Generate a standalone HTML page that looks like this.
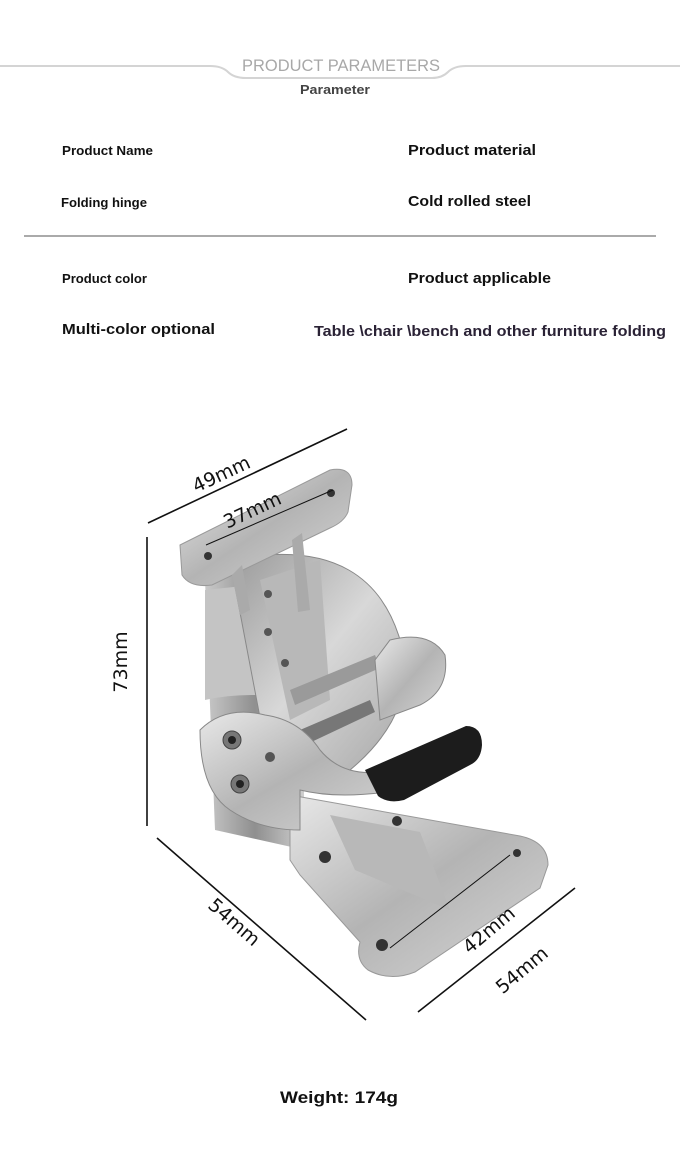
<!DOCTYPE html>
<html><head><meta charset="utf-8"><style>
html,body{margin:0;padding:0;background:#fff;}
svg{display:block}
.b{font-family:"Liberation Sans Narrow","Liberation Sans",sans-serif;font-weight:bold;fill:#111}
.d{font-family:"DejaVu Sans","Liberation Sans",sans-serif;fill:#111;font-size:19px}
</style></head><body>
<svg width="680" height="1156" viewBox="0 0 680 1156" xmlns="http://www.w3.org/2000/svg">
<defs>
<linearGradient id="m1" x1="0" y1="0" x2="1" y2="1"><stop offset="0" stop-color="#e8e8e8"/><stop offset=".5" stop-color="#b4b4b4"/><stop offset="1" stop-color="#d6d6d6"/></linearGradient>
<linearGradient id="m2" x1="0" y1="0" x2="1" y2="0"><stop offset="0" stop-color="#c9c9c9"/><stop offset=".5" stop-color="#8f8f8f"/><stop offset="1" stop-color="#d0d0d0"/></linearGradient>
<linearGradient id="m3" x1="0" y1="0" x2="1" y2="1"><stop offset="0" stop-color="#9a9a9a"/><stop offset=".5" stop-color="#d8d8d8"/><stop offset="1" stop-color="#a8a8a8"/></linearGradient>
</defs>
<path d="M0 66 L210 66 Q222 66 228 72 Q234 78 246 78 L432 78 Q442 78 448 72 Q454 66 466 66 L680 66" fill="none" stroke="#d4d4d4" stroke-width="2"/>
<text x="341" y="71" text-anchor="middle" font-family="Liberation Sans,sans-serif" font-size="17" fill="#a8a8a8" textLength="198" lengthAdjust="spacingAndGlyphs">PRODUCT PARAMETERS</text>
<text x="335" y="94" text-anchor="middle" class="b" font-size="13" style="fill:#444" textLength="70" lengthAdjust="spacingAndGlyphs">Parameter</text>
<text x="62" y="155" class="b" font-size="13" textLength="91" lengthAdjust="spacingAndGlyphs">Product Name</text>
<text x="408" y="155" class="b" font-size="15" textLength="128" lengthAdjust="spacingAndGlyphs">Product material</text>
<text x="61" y="207" class="b" font-size="13" textLength="86" lengthAdjust="spacingAndGlyphs">Folding hinge</text>
<text x="408" y="206" class="b" font-size="15" textLength="123" lengthAdjust="spacingAndGlyphs">Cold rolled steel</text>
<line x1="24" y1="236" x2="656" y2="236" stroke="#777" stroke-width="1.2"/>
<text x="62" y="283" class="b" font-size="13" textLength="85" lengthAdjust="spacingAndGlyphs">Product color</text>
<text x="408" y="283" class="b" font-size="15" textLength="143" lengthAdjust="spacingAndGlyphs">Product applicable</text>
<text x="62" y="334" class="b" font-size="15" textLength="153" lengthAdjust="spacingAndGlyphs">Multi-color optional</text>
<text x="314" y="336" class="b" font-size="15" style="fill:#2a2235" textLength="352" lengthAdjust="spacingAndGlyphs">Table \chair \bench and other furniture folding</text>
<path d="M205 580 L300 560 L305 850 L215 830 Z" fill="url(#m2)"/>
<path d="M205 590 L205 700 Q250 690 300 700 L300 580 Z" fill="#c4c4c4"/>
<path d="M230 560 Q380 530 405 660 Q410 720 350 770 L270 770 Z" fill="url(#m3)" stroke="#888" stroke-width="1"/>
<path d="M260 580 L320 560 L330 700 L290 720 Z" fill="#b8b8b8"/>
<path d="M290 690 L375 655 L380 668 L295 705 Z" fill="#9a9a9a"/>
<path d="M300 730 L370 700 L375 712 L305 745 Z" fill="#777"/>
<path d="M390 640 Q430 630 445 655 Q450 690 420 705 L380 720 L375 660 Z" fill="url(#m1)" stroke="#888"/>
<path d="M180 545 L330 470 Q352 466 352 485 L348 512 Q344 522 330 528 L212 585 Q190 588 182 575 Z" fill="url(#m1)" stroke="#999"/>
<circle cx="208" cy="556" r="4" fill="#333"/><circle cx="331" cy="493" r="4" fill="#333"/>
<path d="M232 575 L242 565 L250 610 L240 615 Z" fill="#aaa"/>
<path d="M292 540 L302 533 L310 610 L298 612 Z" fill="#aaa"/>
<circle cx="268" cy="594" r="4" fill="#555"/><circle cx="268" cy="632" r="4" fill="#555"/><circle cx="285" cy="663" r="4" fill="#555"/>
<path d="M290 795 L520 836 Q548 842 548 865 L540 888 L415 972 Q390 982 368 970 Q355 960 360 942 L300 875 L290 860 Z" fill="url(#m1)" stroke="#999"/>
<path d="M330 815 L420 832 L450 910 L355 870 Z" fill="#b8b8b8"/>
<circle cx="325" cy="857" r="6" fill="#333"/><circle cx="397" cy="821" r="5" fill="#333"/><circle cx="517" cy="853" r="4" fill="#333"/><circle cx="382" cy="945" r="6" fill="#333"/>
<path d="M200 730 Q225 705 265 715 Q300 720 320 750 Q345 780 390 770 L400 790 Q340 800 300 790 L300 830 Q260 830 230 810 Q200 790 200 730 Z" fill="url(#m1)" stroke="#888"/>
<circle cx="232" cy="740" r="9" fill="#777" stroke="#444"/><circle cx="232" cy="740" r="4" fill="#222"/>
<circle cx="240" cy="784" r="9" fill="#777" stroke="#444"/><circle cx="240" cy="784" r="4" fill="#222"/>
<circle cx="270" cy="757" r="5" fill="#555"/>
<path d="M365 770 L466 726 Q482 726 482 745 Q481 760 470 765 L404 800 Q388 804 378 796 Z" fill="#1c1c1c"/>
<g stroke="#111" stroke-width="1.6" fill="none">
<line x1="148" y1="523" x2="347" y2="429"/>
<line x1="206" y1="545" x2="333" y2="490" stroke-width="1"/>
<line x1="147" y1="537" x2="147" y2="826"/>
<line x1="157" y1="838" x2="366" y2="1020"/>
<line x1="390" y1="948" x2="510" y2="855" stroke-width="1"/>
<line x1="418" y1="1012" x2="575" y2="888"/>
</g>
<text class="d" transform="translate(224,480) rotate(-25)" text-anchor="middle">49mm</text>
<text class="d" transform="translate(255,516) rotate(-25)" text-anchor="middle" font-size="17">37mm</text>
<text class="d" transform="translate(127,662) rotate(-90)" text-anchor="middle">73mm</text>
<text class="d" transform="translate(230,927) rotate(41)" text-anchor="middle">54mm</text>
<text class="d" transform="translate(493,935) rotate(-40)" text-anchor="middle">42mm</text>
<text class="d" transform="translate(526,975) rotate(-40)" text-anchor="middle">54mm</text>
<text x="339" y="1103" text-anchor="middle" font-family="Liberation Sans,sans-serif" font-weight="bold" font-size="17" fill="#111" textLength="118" lengthAdjust="spacingAndGlyphs">Weight: 174g</text>
</svg>
</body></html>
